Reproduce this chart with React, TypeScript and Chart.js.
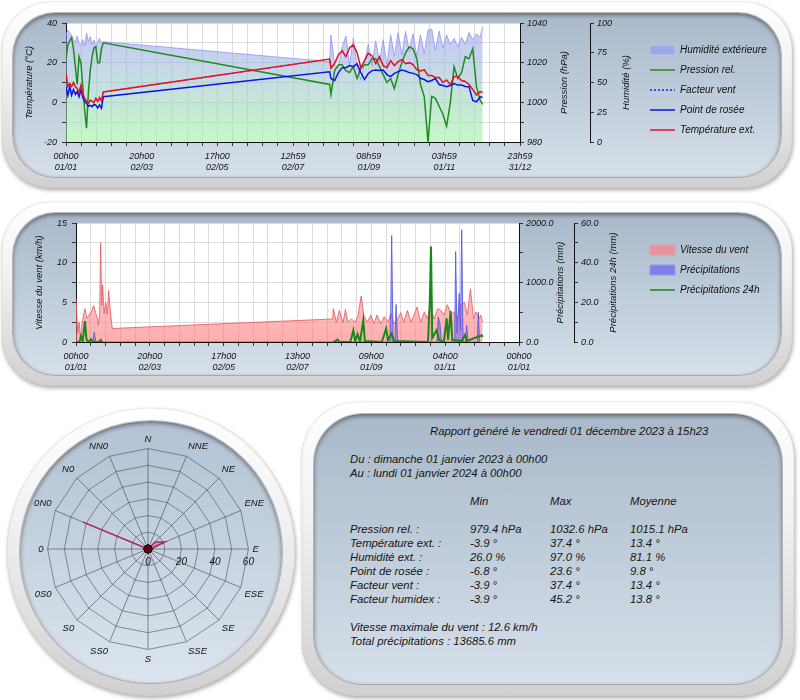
import React, { useEffect, useRef } from 'react';
import { Chart, registerables } from 'chart.js';

Chart.register(...registerables);

const FONT = "'Liberation Sans', Arial, Helvetica, sans-serif";

// ---------- Chart 1 : température / pression / humidité ----------
// jour de l'année (0 = 01/01 00h00)
const DAYS_T = [0, 1.5, 3, 4.5, 6, 7.5, 9, 10.5, 12, 13.5, 15, 16.5, 18, 19.5, 21, 22.5, 24, 25.5, 27, 28.5, 30,
  212, 213, 216, 219, 222, 225, 228, 231, 234, 237, 240, 243, 246, 249, 252, 255, 258, 261, 264, 267, 270, 273,
  276, 279, 282, 285, 288, 291, 294, 297, 300, 303, 306, 309, 312, 315, 318, 321, 324, 327, 330, 333, 335];
const TEMP = [14.8, 8, 9.5, 8, 10, 8, 7, 4.7, 8.6, 4, 2, 0.7, -0.5, 1, 0.5, 0, 2, 0.5, 2.4, 0.7, 5.2,
  21.8, 17.2, 19.7, 23.9, 26, 23, 27.5, 29, 25, 17.5, 21, 24.7, 23.5, 19.5, 23, 18.5, 17.5, 21, 18.5, 20.5, 21.5,
  19.5, 20, 19, 16.5, 15.8, 16.5, 13.5, 13.5, 12.5, 12.5, 10, 11.3, 8.8, 13, 13, 11, 10.5, 9, 6.5, 3.7, 5.4, 5];
const WIND_CHILL = TEMP; // facteur vent identique à la température ext.
const DEW = [7.9, 3.5, 8, 3.5, 6.5, 4, 5.5, 2.8, 6.3, 2.5, 0.5, -0.6, -2, -1.5, -2.2, -1, -1.5, -2.8, -1.3, -3, 2.8,
  15.4, 12, 11, 15, 17.5, 17.5, 18.5, 18, 19.5, 15, 11.5, 14.5, 16, 16.3, 16, 16.3, 14, 13, 14.6, 15.5, 16.3,
  15.8, 15, 14.6, 14, 12.1, 11.5, 10.4, 11, 12, 9, 8.5, 7.9, 8.5, 9.5, 8.7, 8.7, 8, 7.9, 1, 0.3, 2.8, 2.5];
const PRESS = [1022, 1029, 1031, 1032.6, 1027, 1018, 1009, 1023, 1020, 1008, 996, 987, 1005, 1016, 1023, 1027.5, 1028, 1020, 1020, 1027, 1030,
  1009, 1004, 1016, 1019, 1019, 1016, 1015, 1018, 1012, 1017, 1019, 1019, 1022, 1022, 1018, 1014, 1010, 1012, 1007, 1014, 1020,
  1025, 1028, 1027, 1022, 1009, 1003, 980, 1003, 1002, 998, 994, 988, 1000, 1018, 1012, 1015, 1023, 1022, 1027, 1008, 1001, 999];
const HUM = [90, 94, 92, 89.8, 85.7, 84, 89, 83, 81.5, 86, 80.5, 91.4, 84.3, 88.5, 81.5, 85.7, 80, 84.3, 87, 83, 84.3,
  67.5, 89.8, 65, 62, 80, 89, 65, 87, 64, 52, 67, 82, 64, 85, 67, 86, 64, 90, 72, 92, 73,
  93, 76, 91, 72, 90, 74, 94, 95, 77, 93, 79, 90, 82, 87, 80, 88, 82, 92, 86, 91, 88, 97];
const TOP_X_LABELS = [['00h00', '01/01'], ['20h00', '02/03'], ['17h00', '02/05'], ['12h59', '02/07'], ['08h59', '01/09'], ['03h59', '01/11'], ['23h59', '31/12']];

// ---------- Chart 2 : vent / précipitations ----------
const WIND_DAYS = [0, 1.4, 2.5, 3.6, 5.2, 6.3, 7.4, 8.8, 10.7, 12.9, 14.5, 16.2, 17.6, 18.4, 19.5, 20.3, 21.2, 22, 23.1, 24.5, 25.8, 26.9, 28.6, 29.9,
  211.5, 212, 214.5, 217, 220, 222, 224, 227, 230, 232.5, 235, 237, 240, 243, 245.5, 248, 251, 254, 257, 259.5, 262, 265, 267.5, 270,
  273, 276, 278.5, 281, 284, 287, 289.5, 292, 295, 298, 300.5, 303, 306, 309, 311.5, 314, 317, 320, 322.5, 325, 327.5, 329.5, 332, 333.5, 335];
const WIND = [5.5, 1.1, 2.5, 0.7, 2.5, 3.4, 4.2, 3, 3.4, 3.9, 4.6, 3.7, 3, 2.1, 3.4, 12.5, 4.6, 7.2, 3.6, 5, 3.5, 6.5, 3.4, 1.7,
  2.9, 4.2, 2.5, 4.0, 2.4, 4.1, 2.5, 2.9, 2.5, 3.4, 5.8, 3.4, 2.5, 3.4, 2.3, 3.4, 2.3, 3.2, 2.5, 3.6, 2.3, 2.9, 3.7, 2.5,
  4.0, 2.5, 3.4, 4.4, 2.5, 3.8, 2.9, 4.6, 2.9, 4.2, 4.0, 3.4, 4.7, 3.4, 3.8, 2.9, 4.6, 5.0, 3.4, 6.7, 2.9, 3.8, 2.9, 3.4, 2.5];
const PRECIP_DAYS = [14, 15.1, 16.2, 258.5, 259.3, 260.1, 261.2, 262.8, 263.7, 265, 297.5, 298.5, 299.9, 301, 312, 312.8, 313.9, 315.8, 316.8, 317.8, 318.9, 321, 321.9, 323, 330.6, 331.5, 332.5];
const PRECIP = [0, 169, 0, 0, 460, 1790, 0, 0, 632, 0, 0, 420, 300, 0, 0, 1520, 150, 817, 200, 1887, 0, 0, 282, 0, 0, 500, 0];
const PRECIP24_DAYS = [0, 3, 4.1, 5.5, 7.4, 8.5, 9.1, 11, 12.4, 14, 19, 20.3, 21.5, 100,
  212, 215.5, 217, 226, 228.5, 230, 232, 234, 236.7, 238, 252, 255.5, 257, 260, 262, 290, 291.5, 292.5, 293.5,
  297.2, 299, 303, 305.4, 306.5, 308.7, 310, 318, 320.5, 322, 334.3, 335];
const PRECIP24 = [0, 0, 3, 0.5, 10.5, 2, 0.7, 0.3, 1.4, 0, 0, 1.0, 0, null,
  0, 1.2, 0, 0, 5.9, 0.5, 4, 0, 11, 0.5, 0, 6.8, 1, 4.3, 0.5, 0, 20, 48.1, 2,
  6, 1, 0, 11.9, 1, 15.6, 1, 0.5, 3.6, 0.5, 3.4, 2.5];
const BOT_X_LABELS = [['00h00', '01/01'], ['20h00', '02/03'], ['17h00', '02/05'], ['13h00', '02/07'], ['09h00', '01/09'], ['04h00', '01/11'], ['00h00', '01/01']];

// ---------- Rose des vents ----------
const WIND_DIRS = ['N', 'NNE', 'NE', 'ENE', 'E', 'ESE', 'SE', 'SSE', 'S', 'SS0', 'S0', '0S0', '0', '0N0', 'N0', 'NN0'];
const WIND_ROSE = [0, 0, 6, 11, 2, 0, 0, 0, 0, 0, 0, 0, 0, 42, 0, 0];
const ROSE_TICKS = [0, 20, 40, 60];

// ---------- Rapport ----------
const STAT_LABELS = ['Pression rel. :', 'Température ext. :', 'Humidité ext. :', 'Point de rosée :', 'Facteur vent :', 'Facteur humidex :'];
const STAT_MIN = ['979.4 hPa', '-3.9 °', '26.0 %', '-6.8 °', '-3.9 °', '-3.9 °'];
const STAT_MAX = ['1032.6 hPa', '37.4 °', '97.0 %', '23.6 °', '37.4 °', '45.2 °'];
const STAT_AVG = ['1015.1 hPa', '13.4 °', '81.1 %', '9.8 °', '13.4 °', '13.8 °'];

const pts = (xs: number[], ys: (number | null)[]) => xs.map((x, i) => ({ x, y: ys[i] }));

function vGrad(top: string, bottom: string) {
  return (c: any) => {
    const a = c.chart.chartArea;
    if (!a) return top;
    const g = c.chart.ctx.createLinearGradient(0, a.top, 0, a.bottom);
    g.addColorStop(0, top);
    g.addColorStop(1, bottom);
    return g;
  };
}

const plotBg = {
  id: 'plotBg',
  beforeDraw(chart: any) {
    const { ctx, chartArea: a } = chart;
    ctx.save();
    ctx.fillStyle = '#ffffff';
    ctx.fillRect(a.left, a.top, a.right - a.left, a.bottom - a.top);
    ctx.restore();
  },
};

const vTitles = {
  id: 'vTitles',
  afterDraw(chart: any, _a: any, opts: any) {
    const { ctx, chartArea: a } = chart;
    for (const it of opts.items || []) {
      const s = chart.scales[it.axis];
      ctx.save();
      ctx.translate(s.left + it.dx, (a.top + a.bottom) / 2);
      ctx.rotate(-Math.PI / 2);
      ctx.font = `italic 9.5px ${FONT}`;
      ctx.fillStyle = '#111';
      ctx.textAlign = 'center';
      ctx.textBaseline = 'middle';
      ctx.fillText(it.text, 0, 0);
      ctx.restore();
    }
  },
};

const legendWidth = {
  id: 'legendWidth',
  afterInit(chart: any, _a: any, opts: any) {
    const lg = chart.legend;
    if (!lg) return;
    const orig = lg.fit.bind(lg);
    lg.fit = function () {
      orig();
      this.width = opts.width;
    };
  },
};

const roseTicks = {
  id: 'roseTicks',
  afterDraw(chart: any, _a: any, opts: any) {
    const s = chart.scales.r;
    const ctx = chart.ctx;
    ctx.save();
    ctx.font = `italic 10px ${FONT}`;
    ctx.fillStyle = '#111';
    ctx.textAlign = 'center';
    ctx.textBaseline = 'top';
    for (const v of opts.values) {
      const p = s.getPointPositionForValue(opts.index, v);
      ctx.fillText(String(v), p.x, p.y + 8);
    }
    ctx.restore();
  },
};

const tickFont = { size: 9, style: 'italic' as const, family: FONT };

function xScale(labels: string[][], max: number) {
  const n = (labels.length - 1) * 5;
  return {
    type: 'linear',
    position: 'bottom',
    min: 0,
    max,
    afterBuildTicks: (s: any) => {
      s.ticks = Array.from({ length: n + 1 }, (_, i) => ({ value: (max * i) / n }));
    },
    afterFit: (s: any) => { s.height = 35; },
    grid: { color: '#dcdcdc', tickColor: '#333', tickLength: 4 },
    border: { color: '#111' },
    ticks: {
      autoSkip: false, maxRotation: 0, minRotation: 0, padding: 5, color: '#111', font: { ...tickFont, lineHeight: 1.2 },
      callback: (_v: any, i: number) => (i % 5 === 0 ? labels[i / 5] : ''),
    },
  };
}

function legendOpts(specs: any[]) {
  return {
    position: 'right',
    align: 'start',
    title: { display: true, text: '', padding: 0, font: { size: 10 } },
    labels: {
      usePointStyle: true,
      pointStyleWidth: 25,
      boxHeight: 10,
      padding: 10,
      color: '#111',
      font: { size: 10, style: 'italic', family: FONT },
      generateLabels: (chart: any) => chart.data.datasets.map((ds: any, i: number) => ({
        text: ds.label,
        fillStyle: specs[i].fill,
        strokeStyle: specs[i].stroke,
        lineWidth: specs[i].width,
        lineDash: specs[i].dash || [],
        pointStyle: specs[i].style,
        datasetIndex: i,
        hidden: false,
        fontColor: '#111',
      })),
    },
  };
}

const TOP_LEGEND = [
  { style: 'rect', fill: 'rgba(150,165,235,0.85)', stroke: 'rgba(185,200,235,1)', width: 1 },
  { style: 'line', fill: 'rgba(0,0,0,0)', stroke: '#1e8c1e', width: 1.5 },
  { style: 'line', fill: 'rgba(0,0,0,0)', stroke: '#1a1adc', width: 1.5, dash: [2, 2] },
  { style: 'line', fill: 'rgba(0,0,0,0)', stroke: '#0a14e6', width: 1.5 },
  { style: 'line', fill: 'rgba(0,0,0,0)', stroke: '#e8102c', width: 1.5 },
];
const BOT_LEGEND = [
  { style: 'rect', fill: 'rgba(235,140,150,0.85)', stroke: 'rgba(225,160,170,1)', width: 1 },
  { style: 'rect', fill: 'rgba(110,110,235,0.8)', stroke: 'rgba(150,150,235,1)', width: 1 },
  { style: 'line', fill: 'rgba(0,0,0,0)', stroke: '#168a16', width: 1.5 },
];

function Bevel(props: { x: number; y: number; w: number; h: number; r: number | string; t: number; round?: boolean }) {
  const { x, y, w, h, r, t, round } = props;
  return (
    <div style={{
      position: 'absolute', left: x, top: y, width: w, height: h, borderRadius: r,
      background: 'linear-gradient(180deg,#ffffff 0%,#f1f1f1 40%,#d0d0d0 100%)',
      boxShadow: '1px 2px 4px rgba(0,0,0,0.35), inset 0 0 1px rgba(0,0,0,0.3)',
    }}>
      <div style={{
        position: 'absolute', left: t, top: t, right: t, bottom: t,
        borderRadius: round ? '50%' : (r as number) - t * 0.5,
        background: round
          ? 'linear-gradient(180deg,#b2c2d3 0%,#c4d1de 45%,#dce5ee 100%)'
          : 'linear-gradient(180deg,#a9b9ca 0%,#bdcad8 45%,#d6e0ea 100%)',
        boxShadow: 'inset 0 2px 4px rgba(0,0,0,0.45), 0 0 0 1px rgba(140,140,140,0.6)',
      }} />
    </div>
  );
}

export default function App() {
  const c1 = useRef<HTMLCanvasElement>(null);
  const c2 = useRef<HTMLCanvasElement>(null);
  const c3 = useRef<HTMLCanvasElement>(null);

  useEffect(() => {
    Chart.defaults.font.family = FONT;
    Chart.defaults.color = '#111';

    const chart1 = new Chart(c1.current as HTMLCanvasElement, {
      type: 'line',
      data: {
        datasets: [
          { label: 'Humidité extérieure', data: pts(DAYS_T, HUM), yAxisID: 'y2', fill: 'origin',
            backgroundColor: vGrad('rgba(150,150,245,0.55)', 'rgba(160,245,160,0.6)'),
            borderColor: 'rgba(150,150,250,0.85)', borderWidth: 1, pointRadius: 0, order: 5 },
          { label: 'Pression rel.', data: pts(DAYS_T, PRESS), yAxisID: 'y1', fill: false,
            borderColor: '#1e8c1e', borderWidth: 1.5, pointRadius: 0, order: 4 },
          { label: 'Facteur vent', data: pts(DAYS_T, WIND_CHILL), yAxisID: 'y', fill: false,
            borderColor: '#1a1adc', borderWidth: 1, borderDash: [2, 2], pointRadius: 0, order: 3 },
          { label: 'Point de rosée', data: pts(DAYS_T, DEW), yAxisID: 'y', fill: false,
            borderColor: '#0a14e6', borderWidth: 1.5, pointRadius: 0, order: 2 },
          { label: 'Température ext.', data: pts(DAYS_T, TEMP), yAxisID: 'y', fill: false,
            borderColor: '#e8102c', borderWidth: 1.5, pointRadius: 0, order: 1 },
        ],
      } as any,
      options: {
        animation: false,
        responsive: false,
        layout: { padding: { top: 11, left: 0, right: 0, bottom: 0 } },
        plugins: {
          legend: legendOpts(TOP_LEGEND),
          tooltip: { enabled: false },
          vTitles: { items: [{ axis: 'y1', text: 'Pression (hPa)', dx: 44 }, { axis: 'y2', text: 'Humidité (%)', dx: 36 }] },
          legendWidth: { width: 140 },
        },
        scales: {
          x: xScale(TOP_X_LABELS, 365),
          y: {
            position: 'left', min: -20, max: 40,
            afterFit: (s: any) => { s.width = 46; },
            grid: { color: '#dcdcdc', tickColor: '#333', tickLength: 4 },
            border: { color: '#111' },
            ticks: { stepSize: 10, padding: 5, font: tickFont, color: '#111', callback: (v: any) => (v % 20 === 0 ? v : '') },
            title: { display: true, text: 'Température (°C)', font: { size: 9.5, style: 'italic', family: FONT }, color: '#111', padding: { top: 4, bottom: 0 } },
          },
          y1: {
            position: 'right', min: 980, max: 1040,
            afterFit: (s: any) => { s.width = 70; },
            grid: { drawOnChartArea: false, tickColor: '#333', tickLength: 4 },
            border: { color: '#111' },
            ticks: { stepSize: 10, padding: 3, font: tickFont, color: '#111', callback: (v: any) => (v % 20 === 0 ? v : '') },
          },
          y2: {
            position: 'right', min: 0, max: 100,
            afterFit: (s: any) => { s.width = 50; },
            grid: { drawOnChartArea: false, tickColor: '#333', tickLength: 4 },
            border: { color: '#111' },
            ticks: { stepSize: 25, padding: 3, font: tickFont, color: '#111' },
          },
        },
      } as any,
      plugins: [plotBg, vTitles, legendWidth],
    });

    const chart2 = new Chart(c2.current as HTMLCanvasElement, {
      type: 'line',
      data: {
        datasets: [
          { label: 'Vitesse du vent', data: pts(WIND_DAYS, WIND), yAxisID: 'y', fill: 'origin',
            backgroundColor: vGrad('rgba(255,160,160,0.4)', 'rgba(255,120,120,0.6)'),
            borderColor: 'rgba(235,90,100,0.85)', borderWidth: 1, pointRadius: 0, order: 3 },
          { label: 'Précipitations', data: pts(PRECIP_DAYS, PRECIP), yAxisID: 'y1', fill: 'origin',
            backgroundColor: 'rgba(100,100,235,0.5)', borderColor: 'rgba(90,90,230,0.9)', borderWidth: 1, pointRadius: 0, order: 2 },
          { label: 'Précipitations 24h', data: pts(PRECIP24_DAYS, PRECIP24), yAxisID: 'y2', fill: false, spanGaps: false,
            borderColor: '#168a16', borderWidth: 2, pointRadius: 0, order: 1 },
        ],
      } as any,
      options: {
        animation: false,
        responsive: false,
        layout: { padding: { top: 11, left: 0, right: 0, bottom: 0 } },
        plugins: {
          legend: legendOpts(BOT_LEGEND),
          tooltip: { enabled: false },
          vTitles: { items: [{ axis: 'y1', text: 'Précipitations (mm)', dx: 41 }, { axis: 'y2', text: 'Précipitations 24h (mm)', dx: 39 }] },
          legendWidth: { width: 140 },
        },
        scales: {
          x: xScale(BOT_X_LABELS, 365),
          y: {
            position: 'left', min: 0, max: 15,
            afterFit: (s: any) => { s.width = 56; },
            grid: { color: '#dcdcdc', tickColor: '#333', tickLength: 4 },
            border: { color: '#111' },
            ticks: { stepSize: 2.5, padding: 5, font: tickFont, color: '#111', callback: (v: any) => (v % 5 === 0 ? v : '') },
            title: { display: true, text: 'Vitesse du vent (km/h)', font: { size: 9.5, style: 'italic', family: FONT }, color: '#111', padding: { top: 14, bottom: 0 } },
          },
          y1: {
            position: 'right', min: 0, max: 2000,
            afterFit: (s: any) => { s.width = 55; },
            grid: { drawOnChartArea: false, tickColor: '#333', tickLength: 4 },
            border: { color: '#111' },
            ticks: { stepSize: 500, padding: 3, font: tickFont, color: '#111', callback: (v: any) => (v % 1000 === 0 ? Number(v).toFixed(1) : '') },
          },
          y2: {
            position: 'right', min: 0, max: 60,
            afterFit: (s: any) => { s.width = 66; },
            grid: { drawOnChartArea: false, tickColor: '#333', tickLength: 4 },
            border: { color: '#111' },
            ticks: { stepSize: 10, padding: 3, font: tickFont, color: '#111', callback: (v: any) => (v % 20 === 0 ? Number(v).toFixed(1) : '') },
          },
        },
      } as any,
      plugins: [plotBg, vTitles, legendWidth],
    });

    const chart3 = new Chart(c3.current as HTMLCanvasElement, {
      type: 'radar',
      data: {
        labels: WIND_DIRS,
        datasets: [{
          data: WIND_ROSE,
          fill: true,
          backgroundColor: 'rgba(205,60,150,0.45)',
          borderColor: 'rgba(175,25,70,0.85)',
          borderWidth: 1.5,
          pointRadius: (c: any) => (c.raw === 0 ? 4 : 0),
          pointBackgroundColor: '#5a0a1c',
          pointBorderColor: '#3a0010',
          pointBorderWidth: 1,
        }],
      } as any,
      options: {
        animation: false,
        responsive: false,
        layout: { padding: 34 },
        plugins: {
          legend: { display: false },
          tooltip: { enabled: false },
          roseTicks: { values: ROSE_TICKS, index: 4 },
        },
        scales: {
          r: {
            min: 0, max: 60,
            ticks: { display: false, stepSize: 10 },
            grid: { color: 'rgba(60,70,85,0.55)' },
            angleLines: { color: 'rgba(60,70,85,0.6)' },
            pointLabels: { font: { size: 9.5, style: 'italic', family: FONT }, color: '#111', padding: 4 },
          },
        },
      } as any,
      plugins: [roseTicks],
    });

    return () => {
      chart1.destroy();
      chart2.destroy();
      chart3.destroy();
    };
  }, []);

  const txt: React.CSSProperties = {
    position: 'absolute', font: `italic 11.3px ${FONT}`, color: '#151515', lineHeight: '14px', whiteSpace: 'nowrap',
  };
  const rowTop = (i: number) => 522 + i * 14;

  return (
    <div style={{ position: 'fixed', left: 0, top: 0, width: 800, height: 700, background: '#fff', overflow: 'hidden' }}>
      <Bevel x={2} y={2} w={790} h={186} r={48} t={11} />
      <Bevel x={2} y={202} w={790} h={184} r={48} t={11} />
      <Bevel x={302} y={402} w={492} h={294} r={55} t={12} />
      <Bevel x={7} y={408} w={288} h={288} r="50%" t={13} round />

      <canvas ref={c1} width={760} height={165} style={{ position: 'absolute', left: 20, top: 12, width: 760, height: 165 }} />
      <canvas ref={c2} width={760} height={165} style={{ position: 'absolute', left: 20, top: 212, width: 760, height: 165 }} />
      <canvas ref={c3} width={300} height={300} style={{ position: 'absolute', left: 0, top: 399, width: 300, height: 300 }} />

      <div style={{ ...txt, left: 430, top: 424 }}>Rapport généré le vendredi 01 décembre 2023 à 15h23</div>
      <div style={{ ...txt, left: 350, top: 452 }}>Du : dimanche 01 janvier 2023 à 00h00</div>
      <div style={{ ...txt, left: 350, top: 466 }}>Au : lundi 01 janvier 2024 à 00h00</div>
      <div style={{ ...txt, left: 470, top: 494 }}>Min</div>
      <div style={{ ...txt, left: 550, top: 494 }}>Max</div>
      <div style={{ ...txt, left: 630, top: 494 }}>Moyenne</div>
      {STAT_LABELS.map((l, i) => (
        <React.Fragment key={l}>
          <div style={{ ...txt, left: 350, top: rowTop(i) }}>{l}</div>
          <div style={{ ...txt, left: 470, top: rowTop(i) }}>{STAT_MIN[i]}</div>
          <div style={{ ...txt, left: 550, top: rowTop(i) }}>{STAT_MAX[i]}</div>
          <div style={{ ...txt, left: 630, top: rowTop(i) }}>{STAT_AVG[i]}</div>
        </React.Fragment>
      ))}
      <div style={{ ...txt, left: 350, top: 620 }}>Vitesse maximale du vent : 12.6 km/h</div>
      <div style={{ ...txt, left: 350, top: 634 }}>Total précipitations : 13685.6 mm</div>
    </div>
  );
}
